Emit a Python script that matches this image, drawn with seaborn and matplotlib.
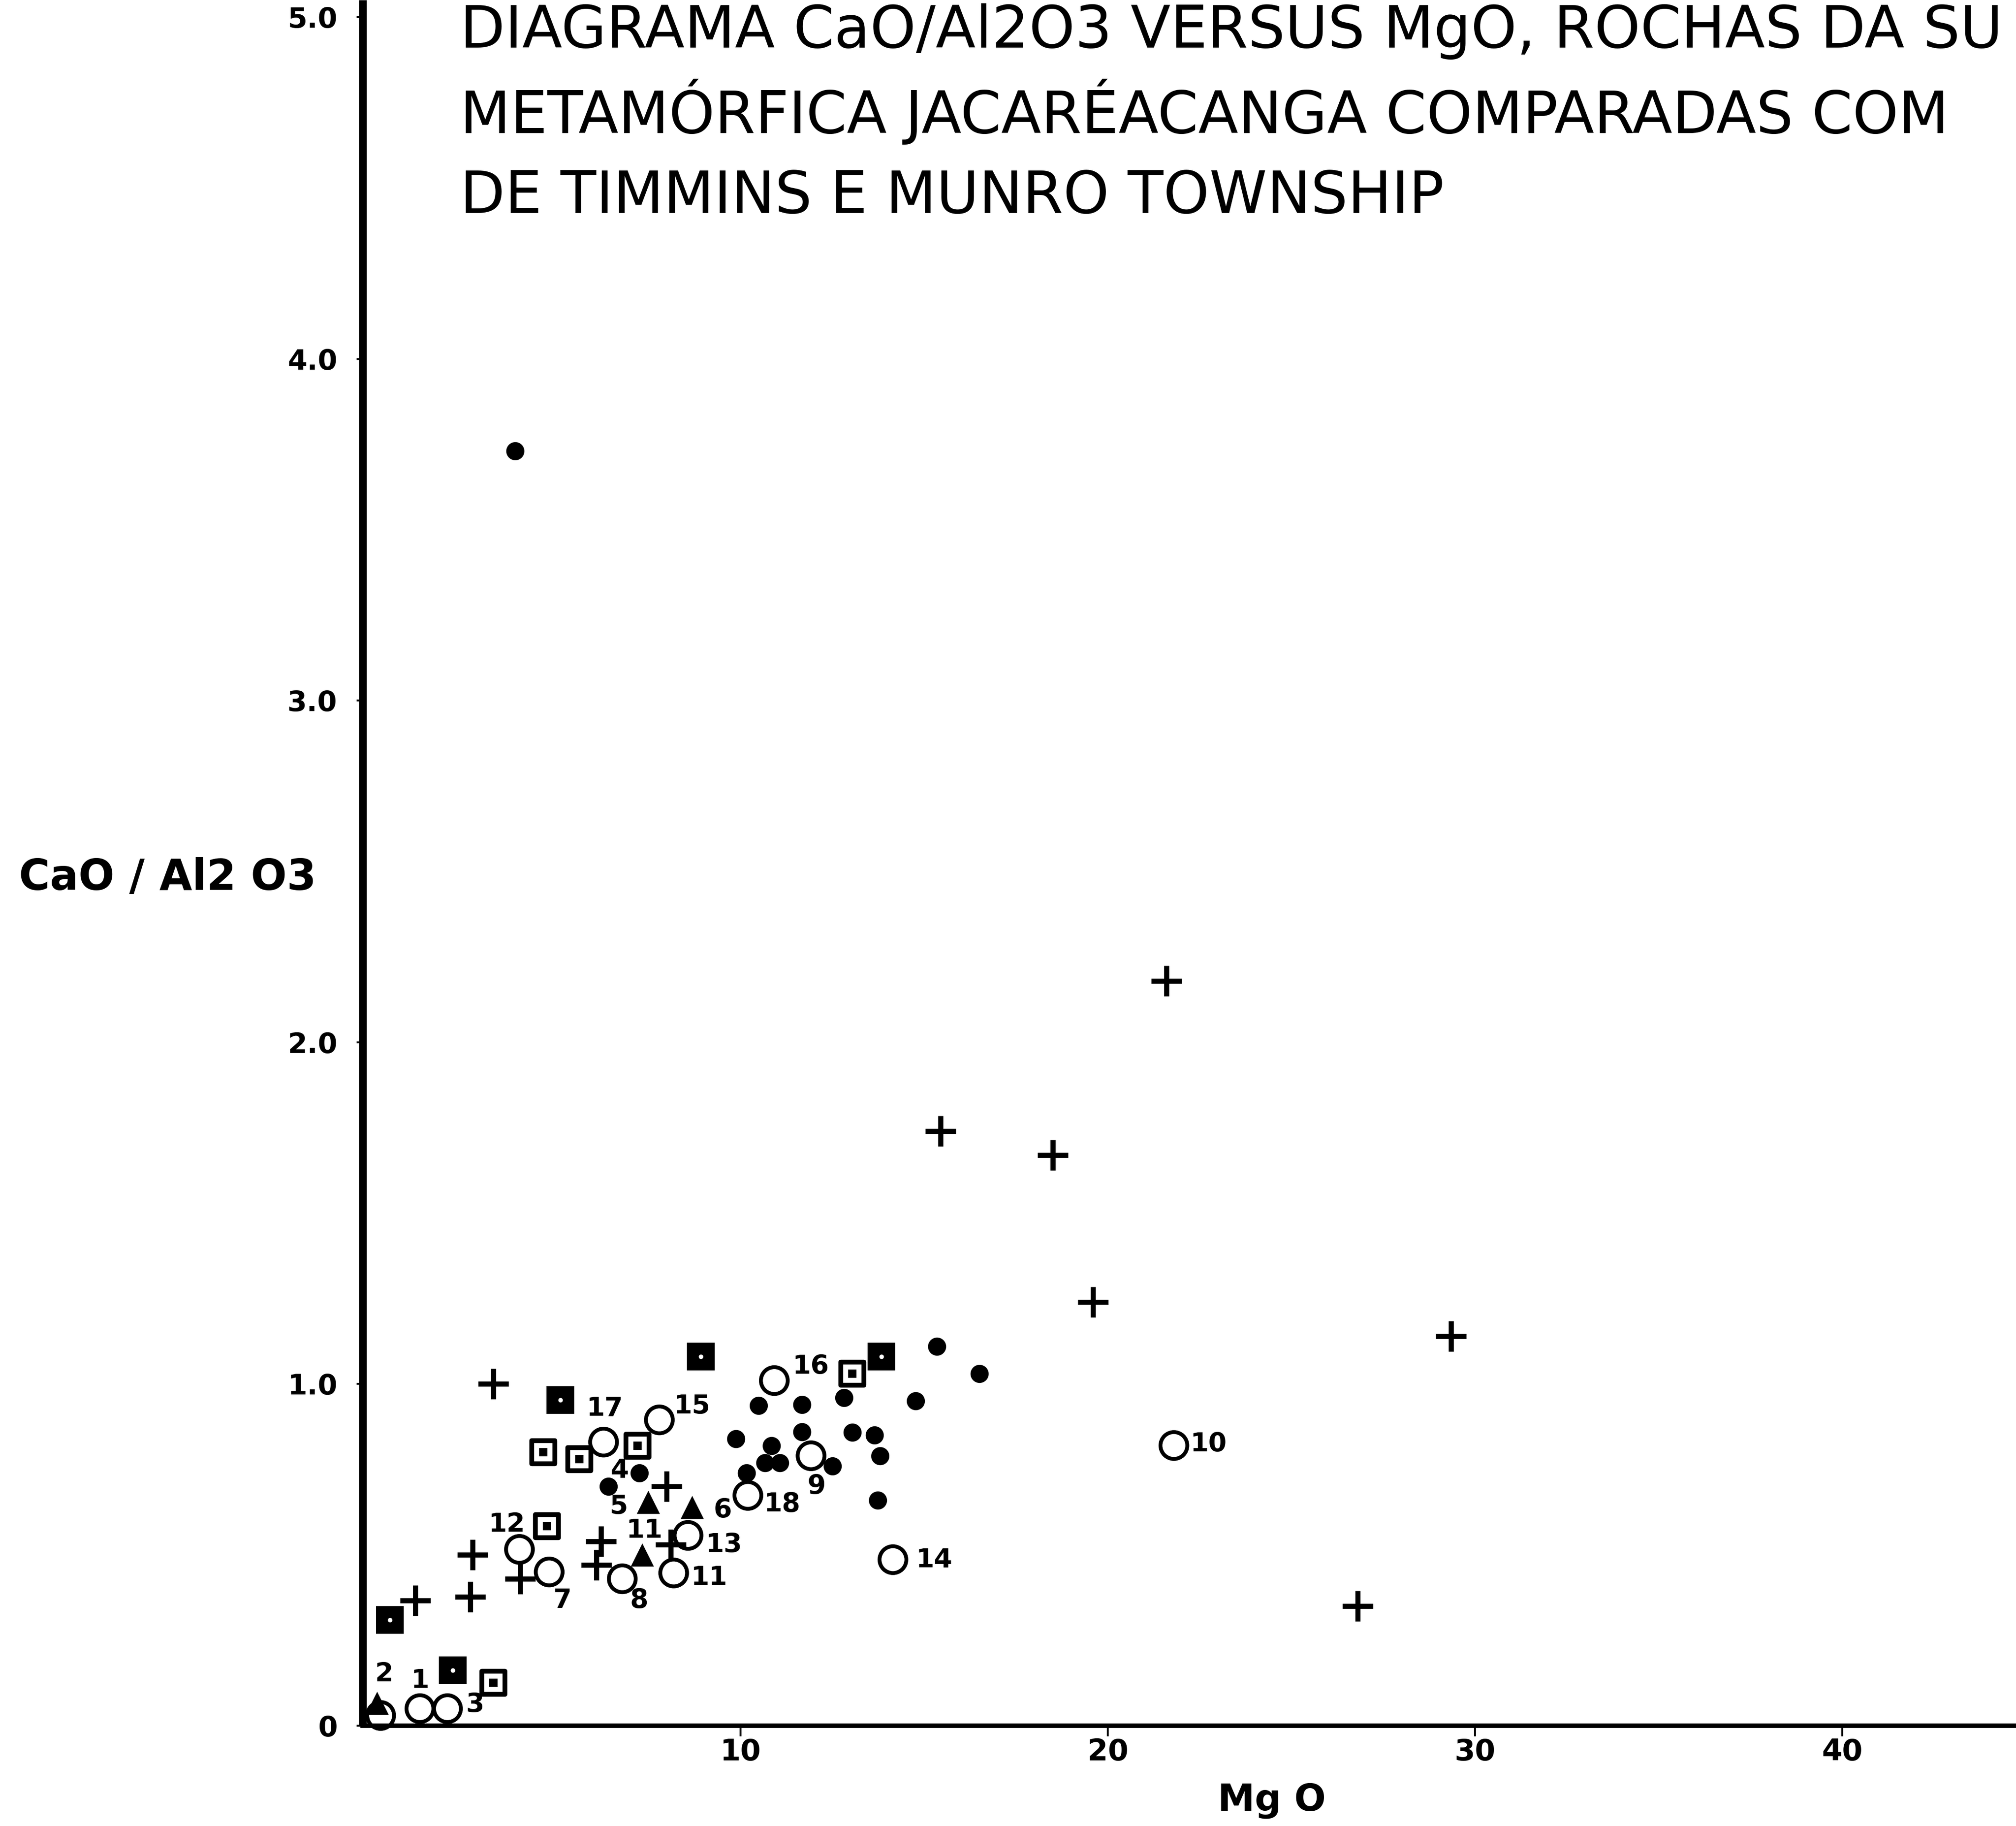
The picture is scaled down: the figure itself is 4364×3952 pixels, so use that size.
import numpy as np
import pandas as pd
import matplotlib
matplotlib.use("Agg")
import matplotlib.pyplot as plt
import seaborn as sns

# ---- valores lidos no diagrama: MgO (x) e CaO/Al2O3 (y) ----
# cruzes
cruz_mgo = [21.6, 15.45, 18.5, 19.6, 29.35, 26.8, 3.27, 1.15, 2.64, 2.70, 4.0, 6.2, 6.07, 7.99, 8.1]
cruz_razao = [2.18, 1.74, 1.67, 1.24, 1.14, 0.35, 1.00, 0.366, 0.377, 0.50, 0.43, 0.54, 0.47, 0.70, 0.53]

# pontos cheios
ponto_mgo = [3.86, 15.35, 16.5, 12.82, 14.77, 10.49, 11.67, 9.87, 11.67, 13.04, 13.65, 13.8,
             10.84, 10.66, 11.07, 12.5, 10.16, 13.73, 7.25, 6.4]
ponto_razao = [3.73, 1.11, 1.03, 0.96, 0.95, 0.937, 0.94, 0.84, 0.86, 0.858, 0.85, 0.79,
               0.82, 0.77, 0.77, 0.76, 0.74, 0.66, 0.74, 0.70]

# circulos abertos (numerados)
circ_mgo = [0.2, 1.27, 2.02, 3.98, 4.79, 6.27, 6.78, 7.79, 8.57, 8.18, 10.2, 10.92, 11.92, 14.15, 21.8]
circ_razao = [0.03, 0.05, 0.05, 0.516, 0.45, 0.83, 0.43, 0.895, 0.557, 0.447, 0.674, 1.01, 0.79, 0.486, 0.82]

# quadrados cheios
quad_mgo = [0.45, 2.16, 5.09, 8.92, 13.84]
quad_razao = [0.31, 0.162, 0.953, 1.08, 1.08]

# quadrados com ponto
quadp_mgo = [3.27, 4.63, 5.61, 7.2, 4.73, 13.04]
quadp_razao = [0.126, 0.80, 0.78, 0.82, 0.584, 1.03]

# triangulos
tri_mgo = [0.1, 7.49, 8.68, 7.32]
tri_razao = [0.066, 0.655, 0.64, 0.50]

# numeros das amostras
rotulos = ["2", "1", "3", "12", "7", "17", "15", "4", "5", "11", "6", "13", "11", "8",
           "16", "18", "9", "14", "10"]
rotulo_mgo = [0.29, 1.27, 2.77, 3.64, 5.14, 6.30, 8.68, 6.71, 6.68, 7.38, 9.51, 9.55, 9.15, 7.24,
              11.92, 11.13, 12.07, 15.27, 22.75]
rotulo_razao = [0.15, 0.13, 0.06, 0.587, 0.366, 0.927, 0.934, 0.747, 0.64, 0.57, 0.63, 0.528, 0.432, 0.366,
                1.05, 0.647, 0.70, 0.484, 0.823]

# titulo como aparece (cortado na borda da folha)
titulo = ["DIAGRAMA CaO/Al2O3 VERSUS MgO, ROCHAS DA SU",
          "METAMÓRFICA JACARÉACANGA COMPARADAS COM",
          "DE TIMMINS E MUNRO TOWNSHIP"]

sns.set_theme(style="ticks")
plt.rcParams['font.family'] = ['DejaVu Sans']
plt.rcParams['text.color'] = 'black'
plt.rcParams['axes.labelcolor'] = 'black'
plt.rcParams['axes.edgecolor'] = 'black'

W, H = 4364, 3952
fig = plt.figure(figsize=(W / 100, H / 100), dpi=100)
fig.patch.set_facecolor('white')
ax = fig.add_axes([785 / W, 217 / H, 1 - 785 / W, 3735 / H])
ax.set_facecolor('white')

grupos = [
    (quad_mgo, quad_razao, dict(marker='s', s=1900, color='black', edgecolor='black', linewidth=0)),
    (quad_mgo, quad_razao, dict(marker='o', s=50, color='white', edgecolor='white', linewidth=0)),
    (quadp_mgo, quadp_razao, dict(marker='s', s=1250, facecolor='white', edgecolor='black', linewidth=7.5)),
    (quadp_mgo, quadp_razao, dict(marker='s', s=150, color='black', edgecolor='black', linewidth=0)),
    (circ_mgo, circ_razao, dict(marker='o', s=1750, facecolor='none', edgecolor='black', linewidth=6)),
    (ponto_mgo, ponto_razao, dict(marker='o', s=800, color='black', edgecolor='black', linewidth=0)),
    (tri_mgo, tri_razao, dict(marker='^', s=1300, color='black', edgecolor='black', linewidth=0)),
    (cruz_mgo, cruz_razao, dict(marker='+', s=2300, color='black', linewidth=8)),
]
for xs, ys, kw in grupos:
    sns.scatterplot(x=xs, y=ys, ax=ax, clip_on=False, legend=False, zorder=3, **kw)

for txt, xv, yv in zip(rotulos, rotulo_mgo, rotulo_razao):
    ax.text(xv, yv, txt, fontsize=41, fontweight='bold', ha='center', va='center',
            color='black', zorder=4)

ax.set_xlim(-0.29, 44.73)
ax.set_ylim(0, 5.05)

ax.spines[['top', 'right']].set_visible(False)
ax.spines['left'].set_linewidth(12)
ax.spines['bottom'].set_linewidth(7)
ax.spines['left'].set_capstyle('butt')

ax.set_xticks([10, 20, 30, 40])
ax.set_yticks([0, 1, 2, 3, 4, 5])
ax.set_yticklabels(['0', '1.0', '2.0', '3.0', '4.0', '5.0'])
ax.tick_params(axis='y', direction='out', length=9.5, width=3, pad=30, labelsize=44, colors='black')
ax.tick_params(axis='x', direction='out', length=16.5, width=3, pad=2, labelsize=46, colors='black')
for lbl in ax.get_xticklabels() + ax.get_yticklabels():
    lbl.set_fontweight('bold')

ax.set_xlabel('Mg O', fontsize=58, fontweight='bold', va='baseline', color='black')
ax.xaxis.set_label_coords(0.550, -0.049)
ax.set_ylabel('CaO / Al2 O3', rotation=0, fontsize=66, fontweight='bold', ha='left', va='baseline',
              color='black')
ax.yaxis.set_label_coords(-0.2079, 0.4844)

for linha, base in zip(titulo, [103, 288, 461]):
    fig.text(996 / W, 1 - base / H, linha, fontsize=91, ha='left', va='baseline', color='black')

fig.savefig('out.png', dpi=100, facecolor='white')
